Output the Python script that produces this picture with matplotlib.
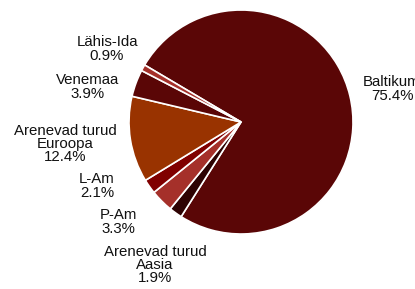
import matplotlib.pyplot as plt

# Market shares (clockwise order, starting with Baltikum)
labels = ['Baltikum', 'Arenevad turud\nAasia', 'P-Am', 'L-Am',
          'Arenevad turud\nEuroopa', 'Venemaa', 'Lähis-Ida']
shares = [75.4, 1.9, 3.3, 2.1, 12.4, 3.9, 0.9]
colors = ['#5a0606', '#2e0202', '#a5302a', '#800000',
          '#993300', '#5a0606', '#a5302a']

# label centres in pixel coordinates (x from left, y from top)
label_pos = [(392, 89), (155, 265), (118, 222), (97, 186),
             (65, 144), (88, 87), (107, 49)]

W, H = 415, 289
fig = plt.figure(figsize=(W / 100, H / 100), dpi=100)
ax = fig.add_axes([0, 0, 1, 1])

ax.pie(shares, colors=colors, startangle=149.4, counterclock=False,
       center=(241, H - 122), radius=112, frame=True,
       wedgeprops=dict(edgecolor='white', linewidth=1.2))
ax.set_xlim(0, W)
ax.set_ylim(0, H)
ax.set_aspect('equal')
ax.axis('off')

for lab, val, (x, y) in zip(labels, shares, label_pos):
    ax.text(x, H - y, f'{lab}\n{val}%', ha='center', va='center',
            fontsize=10.8, family='Liberation Sans', color='#111111',
            linespacing=0.95)

fig.savefig('out.png', dpi=100)
